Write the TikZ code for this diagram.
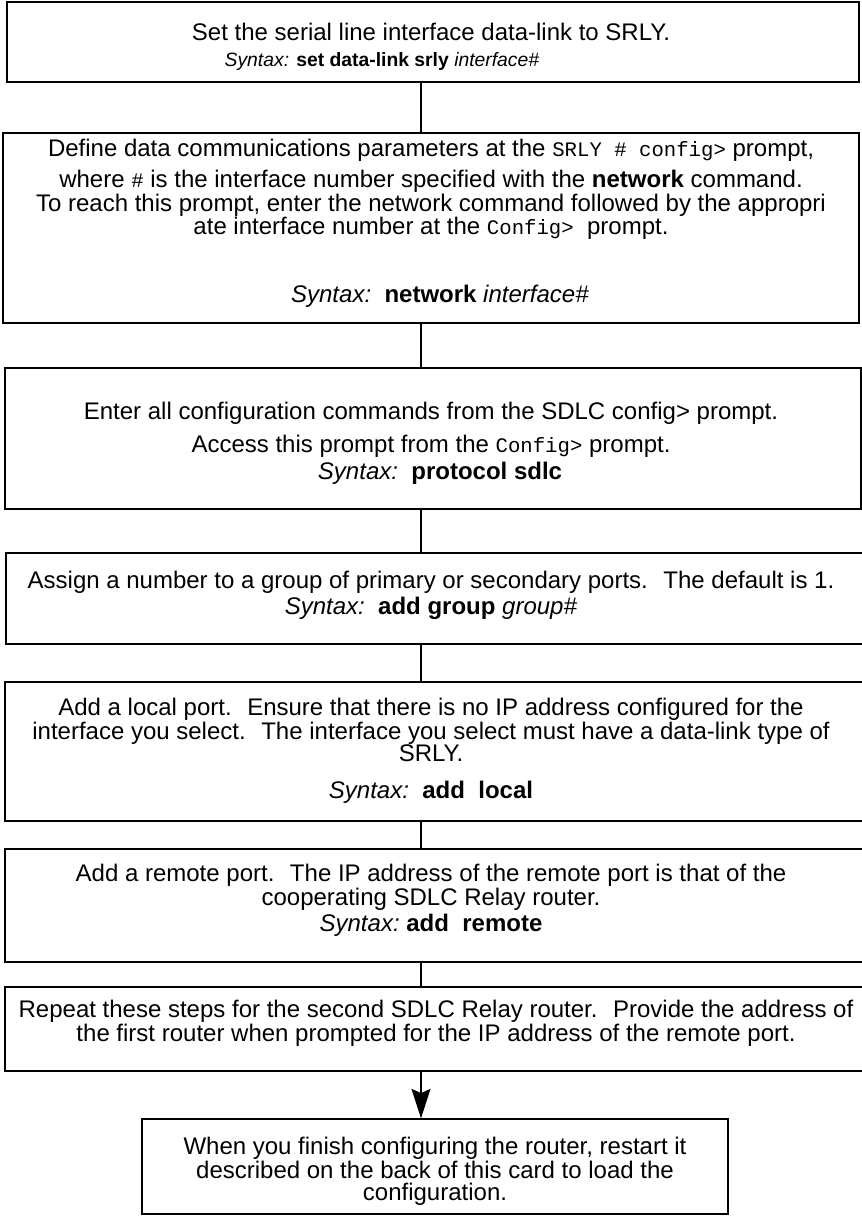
\documentclass[tikz,border=0pt]{standalone}
\usepackage{fontspec}
\setmainfont{Liberation Sans}
\setmonofont{Liberation Mono}
\usetikzlibrary{arrows.meta}

\begin{document}
\begin{tikzpicture}[x=0.75pt,y=0.75pt,yscale=-1,xscale=1,
	stepbox/.style={draw, line width=0.9pt, inner sep=0pt},
	steptext/.style={inner sep=0pt, align=center, font=\fontsize{18}{16.5}\selectfont},
	smalltext/.style={inner sep=0pt, align=center, font=\fontsize{14.5}{16}\selectfont},
	link/.style={line width=2.2pt}]
	\useasboundingbox (0,0) rectangle (862,1216);
	\coordinate (spine) at (421,0);
	% boxes
	\node [stepbox, minimum width=639pt, minimum height=60pt] (b1) at (433,42) {};
	\node [stepbox, minimum width=642pt, minimum height=142.5pt] (b2) at (431,228) {};
	\node [stepbox, minimum width=642pt, minimum height=105.75pt] (b3) at (433,438.5) {};
	\node [stepbox, minimum width=648pt, minimum height=68.25pt] (b4) at (438,598.5) {};
	\node [stepbox, minimum width=648.75pt, minimum height=104.25pt] (b5) at (437.5,751.5) {};
	\node [stepbox, minimum width=648.75pt, minimum height=84.75pt] (b6) at (437.5,905.5) {};
	\node [stepbox, minimum width=648.75pt, minimum height=63pt] (b7) at (437.5,1029) {};
	\node [stepbox, minimum width=439.5pt, minimum height=71.25pt] (b8) at (435,1166.5) {};
	% texts
	\node [steptext] (t1a) at (431,32) {Set the serial line interface data-link to SRLY.};
	\node [smalltext] (t1b) at (382,62) {\textit{Syntax:} \textbf{set data-link srly} \textit{interface\#}};
	\node [steptext] (t2a) at (431,150) {Define data communications parameters at the {\fontsize{15.5}{16.5}\ttfamily SRLY \# config>} prompt,};
	\node [steptext] (t2b) at (431,205) {where {\fontsize{15.5}{16.5}\ttfamily\#} is the interface number specified with the \textbf{network} command.\\To reach this prompt, enter the network command followed by the appropri\\ate interface number at the {\fontsize{15.5}{16.5}\ttfamily Config>}\ \ prompt.};
	\node [steptext] (t2c) at (440,296) {\textit{Syntax:}\ \ \textbf{network} \textit{interface\#}};
	\node [steptext] (t3a) at (431,413) {Enter all configuration commands from the SDLC config> prompt.};
	\node [steptext] (t3b) at (431,446) {Access this prompt from the {\fontsize{15.5}{16.5}\ttfamily Config>} prompt.};
	\node [steptext] (t3c) at (440,473) {\textit{Syntax:}\ \ \textbf{protocol sdlc}};
	\node [steptext] (t4a) at (431,582) {Assign a number to a group of primary or secondary ports.~ The default is 1.};
	\node [steptext] (t4b) at (431,608) {\textit{Syntax:}\ \ \textbf{add group} \textit{group\#}};
	\node [steptext] (t5a) at (431,730) {Add a local port.~ Ensure that there is no IP address configured for the\\interface you select.~ The interface you select must have a data-link type of\\SRLY.};
	\node [steptext] (t5b) at (431,792) {\textit{Syntax:}\ \ \textbf{add\ \ local}};
	\node [steptext] (t6a) at (431,887.5) {Add a remote port.~ The IP address of the remote port is that of the\\cooperating SDLC Relay router.};
	\node [steptext] (t6b) at (431,925) {\textit{Syntax:}\ \textbf{add\ \ remote}};
	\node [steptext] (t7a) at (436,1023) {Repeat these steps for the second SDLC Relay router.~ Provide the address of\\the first router when prompted for the IP address of the remote port.};
	\node [steptext] (t8a) at (435,1171) {When you finish configuring the router, restart it\\described on the back of this card to load the\\configuration.};
	% connectors
	\draw [link] (spine |- b1.south) -- (spine |- b2.north);
	\draw [link] (spine |- b2.south) -- (spine |- b3.north);
	\draw [link] (spine |- b3.south) -- (spine |- b4.north);
	\draw [link] (spine |- b4.south) -- (spine |- b5.north);
	\draw [link] (spine |- b5.south) -- (spine |- b6.north);
	\draw [link] (spine |- b6.south) -- (spine |- b7.north);
	\draw [link, -{Stealth[length=22pt, width=14pt, inset=3pt]}] (spine |- b7.south) -- (spine |- b8.north);
\end{tikzpicture}
\end{document}
